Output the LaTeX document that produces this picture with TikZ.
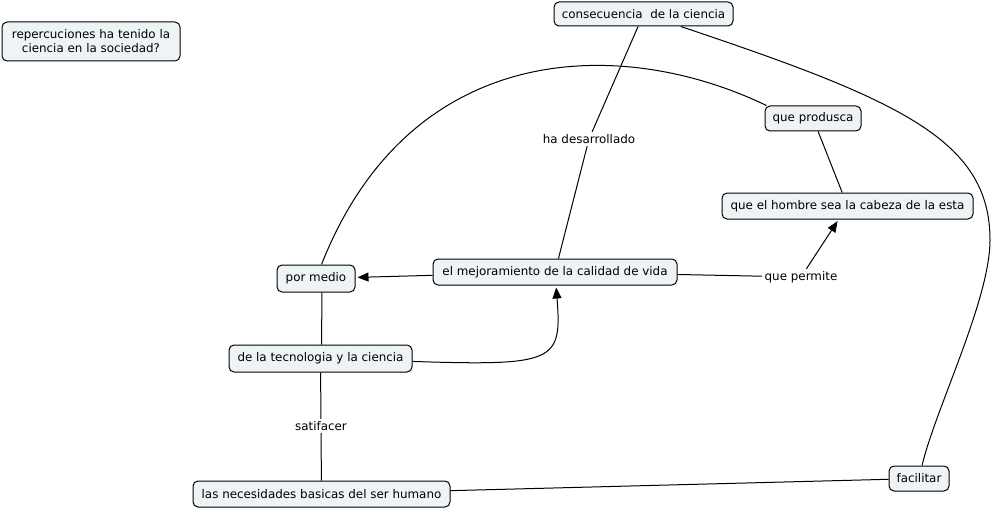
\documentclass[tikz,border=0pt]{standalone}
\usepackage{fontspec}
\setmainfont{DejaVu Sans}
\usetikzlibrary{arrows.meta}
\definecolor{cmapfill}{HTML}{EEF3F5}

\begin{document}
\begin{tikzpicture}[x=1pt, y=-1pt, line width=1pt, font=\fontsize{11.9}{14}\selectfont,
	concept/.style={draw, fill=cmapfill, rounded corners=5pt, inner sep=0pt, minimum height=26pt},
	phrase/.style={fill=white, inner sep=2pt},
	link/.style={-{Triangle[length=11pt,width=9pt]}, shorten >=2pt}]
	\useasboundingbox (0,0) rectangle (993,508);
	\node[concept, minimum width=178pt, minimum height=39pt, align=center] (quest) at (91,41.5) {repercuciones ha tenido la\\ciencia en la sociedad?};
	\node[concept, minimum width=179pt, minimum height=24pt] (cons) at (643.5,14) {consecuencia\ \ de la ciencia};
	\node[concept, minimum width=96pt, minimum height=25pt] (prod) at (813,118.5) {que produsca};
	\node[concept, minimum width=251pt] (hombre) at (847.5,206) {que el hombre sea la cabeza de la esta};
	\node[concept, minimum width=78pt, minimum height=27pt] (pormedio) at (316,278.5) {por medio};
	\node[concept, minimum width=244pt] (mejor) at (555,272) {el mejoramiento de la calidad de vida};
	\node[concept, minimum width=183pt, minimum height=27pt] (tecno) at (320.5,358.5) {de la tecnologia y la ciencia};
	\node[concept, minimum width=257pt] (necesid) at (321.5,494) {las necesidades basicas del ser humano};
	\node[concept, minimum width=60pt, minimum height=25pt] (facil) at (919,478.5) {facilitar};
	\node[phrase] (hades) at (589,139) {ha desarrollado};
	\node[phrase] (qperm) at (801,277) {que permite};
	\node[phrase] (satif) at (321,426) {satifacer};
	\draw (cons) -- (hades) -- (mejor);
	\draw (cons) .. controls (900,100) and (990,140) .. (990,240) .. controls (990,300) and (935,410) .. (facil);
	\draw ([xshift=2pt]prod.north west) .. controls (620,35) and (410,40) .. (pormedio);
	\draw (prod) -- (hombre);
	\draw[link] (mejor) -- (pormedio);
	\draw (mejor) -- (qperm);
	\draw[link] (qperm) -- (hombre);
	\draw ([xshift=6pt]pormedio.south) -- ([xshift=1pt]tecno.north);
	\draw[link] (tecno) .. controls (555,366) and (562,362) .. (mejor);
	\draw (tecno) -- (satif) -- (necesid);
	\draw (necesid) -- (facil);
\end{tikzpicture}
\end{document}
